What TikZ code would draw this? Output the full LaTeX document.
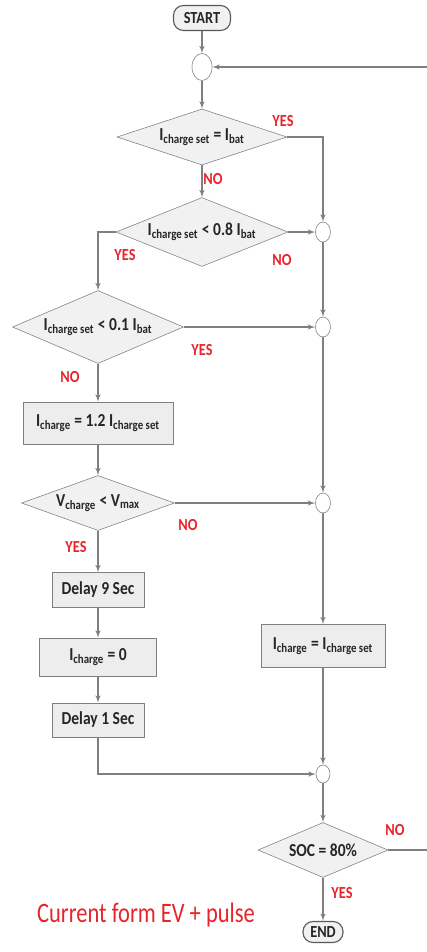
\documentclass[tikz,border=0pt]{standalone}
\usepackage{fontspec}
\setmainfont{Carlito}[FakeStretch=0.85]
\newfontfamily\capfont{Carlito}[FakeStretch=0.8]
\usetikzlibrary{arrows,shapes.geometric}

\definecolor{linegray}{HTML}{7F7F7F}
\definecolor{fillgray}{HTML}{F1F1F1}
\definecolor{labelred}{HTML}{E8242B}

\begin{document}
\begin{tikzpicture}[>=latex', auto,
    line/.style={color=linegray, line width=0.8pt},
    decision/.style={diamond, aspect=3, draw=linegray, fill=fillgray, inner sep=0pt, text=black!85,
        font=\bfseries\fontsize{13}{15}\selectfont},
    process/.style={rectangle, draw=linegray, fill=black!7, inner sep=0pt, text=black!85,
        font=\bfseries\fontsize{13}{15}\selectfont},
    junction/.style={ellipse, draw=linegray, fill=white, inner sep=0pt, minimum width=0.375cm, minimum height=0.5cm},
    terminal/.style={rectangle, rounded corners=0.25cm, draw=black!65, fill=fillgray, inner sep=0pt, line width=0.8pt,
        text=black!85, font=\bfseries\fontsize{12}{14}\selectfont},
    answer/.style={text=labelred, font=\bfseries\fontsize{12}{14}\selectfont}]

    \useasboundingbox (0,0) rectangle (10.675,-23.8);

    % Nodes {start, junctions, tests, steps, end}
    \node [terminal, minimum width=1.425cm, minimum height=0.625cm] (start) at (5.05,-0.45) {START};
    \node [junction, minimum width=0.5cm, minimum height=0.675cm] (j1) [below of=start, node distance=1.225cm] {};
    \node [decision, minimum width=4.25cm, minimum height=1.4cm] (d1) [below of=j1, node distance=1.75cm] {I\textsubscript{charge set} = I\textsubscript{bat}};
    \node [decision, minimum width=4.3cm, minimum height=1.725cm] (d2) [below of=d1, node distance=2.375cm] {I\textsubscript{charge set} < 0.8 I\textsubscript{bat}};
    \node [junction] (j2) [right of=d2, node distance=3.025cm] {};
    \node [junction] (j3) [below of=j2, node distance=2.375cm] {};
    \node [decision, minimum width=4.275cm, minimum height=1.825cm] (d3) [left of=j3, node distance=5.625cm] {I\textsubscript{charge set} < 0.1 I\textsubscript{bat}};
    \node [process, minimum width=3.75cm, minimum height=1.05cm] (b1) [below of=d3, node distance=2.4cm] {I\textsubscript{charge} = 1.2 I\textsubscript{charge set}};
    \node [decision, minimum width=3.825cm, minimum height=1.375cm] (d4) [below of=b1, node distance=2cm] {V\textsubscript{charge} < V\textsubscript{max}};
    \node [junction] (j4) [right of=d4, node distance=5.625cm] {};
    \node [process, minimum width=2.3cm, minimum height=0.875cm] (delay9) [below of=d4, node distance=2.175cm] {Delay 9 Sec};
    \node [process, minimum width=2.925cm, minimum height=0.95cm] (zero) [below of=delay9, node distance=1.675cm] {I\textsubscript{charge} = 0};
    \node [process, minimum width=2.3cm, minimum height=0.85cm] (delay1) [below of=zero, node distance=1.575cm] {Delay 1 Sec};
    \node [process, minimum width=3.1cm, minimum height=1.075cm] (setbox) [below of=j4, node distance=3.575cm] {I\textsubscript{charge} = I\textsubscript{charge set}};
    \node [junction, minimum width=0.35cm, minimum height=0.45cm] (j5) [below of=setbox, node distance=3.2cm] {};
    \node [decision, minimum width=3.25cm, minimum height=1.375cm] (soc) [below of=j5, node distance=1.9cm] {SOC = 80\%};
    \node [terminal, minimum width=1cm, minimum height=0.525cm] (end) [below of=soc, node distance=2.05cm] {END};

    \node [text=labelred, font=\capfont\fontsize{20}{24}\selectfont] (caption) at (3.65,-22.875) {Current form EV + pulse};

    % Answers
    \node [answer] (yes1) at (7.075,-3.025) {YES};
    \node [answer] (no1)  at (5.325,-4.475) {NO};
    \node [answer] (yes2) at (3.125,-6.375) {YES};
    \node [answer] (no2)  at (7.05,-6.5)    {NO};
    \node [answer] (yes3) at (5.05,-8.75)   {YES};
    \node [answer] (no3)  at (1.75,-9.425)  {NO};
    \node [answer] (no4)  at (4.7,-13.125)  {NO};
    \node [answer] (yes4) at (1.9,-13.675)  {YES};
    \node [answer] (no5)  at (9.875,-20.75) {NO};
    \node [answer] (yes5) at (8.55,-22.325) {YES};

    % Loop ends at the right edge
    \coordinate (loopin) at (10.675,-1.675);
    \coordinate (loopout) at (soc.east -| loopin);

    % Paths
    \path [->, line] (start) edge (j1);
    \path [->, line] (loopin) edge (j1);
    \path [->, line] (j1) edge (d1);
    \draw [->, line] (d1.east) -| (j2.north);
    \path [->, line] (d1) edge (d2);
    \path [->, line] (d2.east) edge (j2);
    \draw [->, line] (d2.west) -| (d3.north);
    \path [->, line] (j2) edge (j3);
    \path [->, line] (d3.east) edge (j3);
    \path [->, line] (d3) edge (b1);
    \path [->, line] (j3) edge (j4);
    \path [->, line] (b1) edge (d4);
    \path [->, line] (d4.east) edge (j4);
    \path [->, line] (d4) edge (delay9);
    \path [->, line] (delay9) edge (zero);
    \path [->, line] (zero) edge (delay1);
    \path [->, line] (j4) edge (setbox);
    \path [->, line] (setbox) edge (j5);
    \draw [->, line] (delay1.south) |- (j5.west);
    \path [->, line] (j5) edge (soc);
    \path [->, line] (soc) edge (end);
    \path [line] (soc.east) edge (loopout);

\end{tikzpicture}
\end{document}
